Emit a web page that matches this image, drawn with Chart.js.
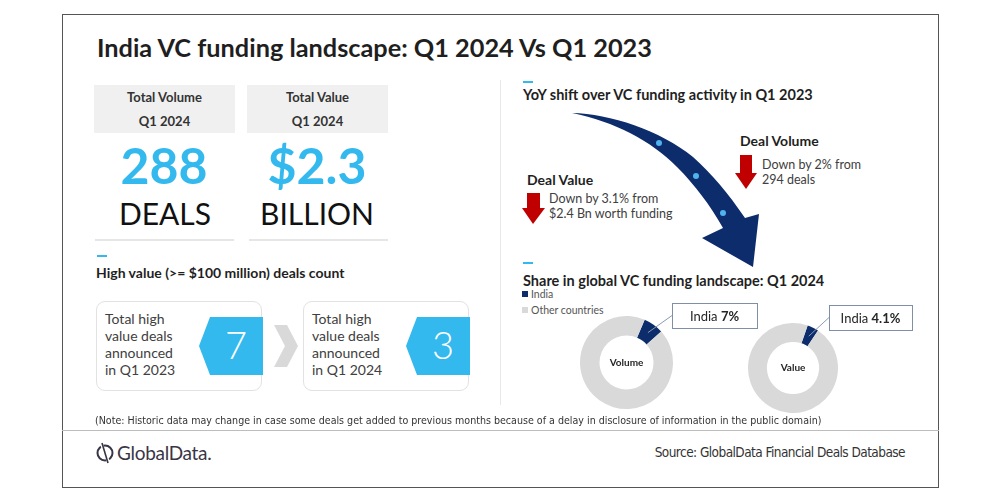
<!DOCTYPE html>
<html>
<head>
<meta charset="utf-8">
<script src="https://cdn.jsdelivr.net/npm/chart.js@4.4.1/dist/chart.umd.min.js"></script>
<style>
  body { margin:0; width:1000px; height:500px; background:#fff; font-family:Lato, "Open Sans", sans-serif; color:#262626; position:relative; overflow:hidden; }
  .abs { position:absolute; }
  .frame { left:62px; top:14px; width:875px; height:472px; border:1px solid #555; }
  .title { left:97px; top:32px; font-size:25.3px; font-weight:bold; color:#1f1f1f; white-space:nowrap; }
  .hdr { background:#f0f0f0; height:48px; top:85px; width:141px; text-align:center; font-size:13px; font-weight:bold; color:#333; }
  .hdr div { line-height:24px; }
  .big { font-size:50px; font-weight:bold; color:#33b9ee; text-align:center; width:160px; line-height:50px; top:140px; }
  .unit { font-size:30px; color:#111; text-align:center; width:160px; top:196px; line-height:34px; }
  .uline { height:2px; background:#e6e6e6; top:239px; width:139px; }
  .dash { width:10px; height:2px; background:#33b9ee; }
  .sub { font-size:14px; font-weight:bold; color:#1f1f1f; white-space:nowrap; }
  .card { border:1px solid #e2e2e2; border-radius:9px; width:164px; height:88px; top:301px; background:#fff; }
  .card span { position:absolute; left:8px; top:8px; font-size:14px; line-height:17px; color:#404040; }
  .txt { font-size:12.5px; color:#404040; line-height:15px; white-space:nowrap; }
  .note { left:95px; top:414px; font-family:"Liberation Sans Narrow","DejaVu Sans Condensed",sans-serif; font-size:10.6px; color:#333; white-space:nowrap; }
  .src { right:95px; top:444px; font-family:"Liberation Sans Narrow","DejaVu Sans Condensed",sans-serif; font-size:13.5px; letter-spacing:-0.55px; color:#333; white-space:nowrap; }
  .leg { font-size:10.5px; color:#555; white-space:nowrap; }
  .leg i { display:inline-block; width:6px; height:6px; margin-right:3px; vertical-align:1px; }
</style>
</head>
<body>
<div class="abs frame"></div>
<div class="abs title">India VC funding landscape: Q1 2024 Vs Q1 2023</div>

<!-- left top KPIs -->
<div class="abs hdr" style="left:94px"><div>Total Volume</div><div>Q1 2024</div></div>
<div class="abs hdr" style="left:247px"><div>Total Value</div><div>Q1 2024</div></div>
<div class="abs big" style="left:84px">288</div>
<div class="abs big" style="left:237px">$2.3</div>
<div class="abs unit" style="left:85px">DEALS</div>
<div class="abs unit" style="left:237px">BILLION</div>
<div class="abs uline" style="left:95px"></div>
<div class="abs uline" style="left:249px"></div>

<div class="abs" style="left:500px;top:80px;width:1px;height:325px;background:#e8e8e8"></div>

<!-- high value deals -->
<div class="abs dash" style="left:97px;top:255px"></div>
<div class="abs sub" style="left:96px;top:264px">High value (&gt;= $100 million) deals count</div>
<div class="abs card" style="left:96px"><span>Total high<br>value deals<br>announced<br>in Q1 2023</span></div>
<div class="abs card" style="left:303px"><span>Total high<br>value deals<br>announced<br>in Q1 2024</span></div>
<svg class="abs" style="left:0;top:0" width="1000" height="500">
  <polygon points="199,346 210,317 263,317 263,375 210,375" fill="#33b9ee"/>
  <polygon points="406,346 417,317 470,317 470,375 417,375" fill="#33b9ee"/>
  <polygon points="274,325 287,325 298,346 287,367 274,367 285,346" fill="#d9d9d9"/>
  <text x="236" y="359" text-anchor="middle" font-family="Lato" font-weight="300" font-size="38" fill="#fff">7</text>
  <text x="443" y="359" text-anchor="middle" font-family="Lato" font-weight="300" font-size="38" fill="#fff">3</text>

  <!-- curved arrow -->
  <path d="M572,113 C610,114 660,130 693,157 C712,174 728,193 745,218 L759,214 L753,267 L702,238 L723,228 C710,205 695,185 677,167 C650,140 615,122 572,113 Z" fill="#0d2c6c"/>
  <circle cx="659" cy="143" r="3" fill="#4fb3f0"/>
  <circle cx="696" cy="176" r="3" fill="#4fb3f0"/>
  <circle cx="723" cy="213" r="3" fill="#4fb3f0"/>

  <!-- red down arrows -->
  <polygon points="527,193 540,193 540,208 545,208 533,224 522,208 527,208" fill="#c00000"/>
  <polygon points="740,155 752,155 752,173 757,173 746,189 735,173 740,173" fill="#c00000"/>

  <!-- logo -->
  <circle cx="105" cy="453" r="7.5" fill="none" stroke="#3a3546" stroke-width="2"/>
  <line x1="101" y1="443" x2="109" y2="463" stroke="#fff" stroke-width="3"/>
  <line x1="102" y1="443" x2="108" y2="463" stroke="#3a3546" stroke-width="1.6"/>
</svg>

<!-- right top -->
<div class="abs dash" style="left:523px;top:81px"></div>
<div class="abs sub" style="left:523px;top:86px;font-size:14.5px">YoY shift over VC funding activity in Q1 2023</div>
<div class="abs sub" style="left:740px;top:132px">Deal Volume</div>
<div class="abs txt" style="left:762px;top:157px">Down by 2% from<br>294 deals</div>
<div class="abs sub" style="left:527px;top:171px">Deal Value</div>
<div class="abs txt" style="left:549px;top:191px">Down by 3.1% from<br>$2.4 Bn worth funding</div>

<!-- right bottom -->
<div class="abs dash" style="left:523px;top:262px"></div>
<div class="abs sub" style="left:523px;top:272px;font-size:14.5px">Share in global VC funding landscape: Q1 2024</div>
<div class="abs leg" style="left:522px;top:288px"><i style="background:#0d2c6c"></i>India</div>
<div class="abs leg" style="left:522px;top:304px"><i style="background:#d9d9d9"></i>Other countries</div>

<canvas id="volChart" class="abs" style="left:570px;top:298px" width="200" height="120"></canvas>
<canvas id="valChart" class="abs" style="left:738px;top:300px" width="200" height="120"></canvas>

<div class="abs note">(Note: Historic data may change in case some deals get added to previous months because of a delay in disclosure of information in the public domain)</div>
<div class="abs" style="left:62px;top:430px;width:877px;height:1px;background:#bdbdbd"></div>
<div class="abs" style="left:117px;top:441px;font-size:19px;color:#3a3546;letter-spacing:-0.3px">GlobalData.</div>
<div class="abs src">Source: GlobalData Financial Deals Database</div>

<script>
const shareLabels = ['India', 'Other countries'];
const shareColors = ['#0d2c6c', '#d9d9d9'];
const volumeShare = [7, 93];
const valueShare = [4.1, 95.9];

// callout box + centre label for each donut
const calloutPlugin = {
    id: 'callout',
    afterDraw(chart, args, o) {
        const c = chart.ctx;
        const arc = chart.getDatasetMeta(0).data[0];
        const mid = (arc.startAngle + arc.endAngle) / 2;
        const r = (arc.outerRadius + arc.innerRadius) / 2;
        const x0 = arc.x + Math.cos(mid) * r, y0 = arc.y + Math.sin(mid) * r;
        c.save();
        c.strokeStyle = '#8a9bb5';
        c.lineWidth = 1;
        c.beginPath();
        c.moveTo(x0, y0);
        c.lineTo(o.bx, o.by + o.bh / 2);
        c.stroke();
        c.fillStyle = '#fff';
        c.fillRect(o.bx, o.by, o.bw, o.bh);
        c.strokeStyle = '#7f8fa6';
        c.strokeRect(o.bx + 0.5, o.by + 0.5, o.bw, o.bh);
        const v = chart.data.datasets[0].data[0] + '%';
        c.font = '13px Lato';
        const w1 = c.measureText('India ').width;
        c.font = 'bold 13px Lato';
        const w2 = c.measureText(v).width;
        let tx = o.bx + (o.bw - w1 - w2) / 2;
        c.textBaseline = 'middle';
        c.fillStyle = '#262626';
        c.font = '13px Lato';
        c.fillText('India ', tx, o.by + o.bh / 2 + 1);
        c.font = 'bold 13px Lato';
        c.fillText(v, tx + w1, o.by + o.bh / 2 + 1);
        c.textAlign = 'center';
        c.font = 'bold 10px Lato';
        c.fillText(o.center, arc.x, arc.y);
        c.restore();
    }
};

function donut(id, data, rot, pad, box, center) {
    return new Chart(document.getElementById(id), {
        type: 'doughnut',
        data: {
            labels: shareLabels,
            datasets: [{ data: data, backgroundColor: shareColors, borderWidth: 0 }]
        },
        options: {
            responsive: false,
            animation: false,
            events: [],
            rotation: rot,
            cutout: '58%',
            layout: { padding: pad },
            plugins: {
                legend: { display: false },
                tooltip: { enabled: false },
                callout: Object.assign({ center: center }, box)
            }
        },
        plugins: [calloutPlugin]
    });
}

donut('volChart', volumeShare, 23, { left: 10, right: 97, top: 18, bottom: 9 }, { bx: 102, by: 5, bw: 85, bh: 25 }, 'Volume');
donut('valChart', valueShare, 19, { left: 10, right: 100, top: 23, bottom: 7 }, { bx: 91, by: 5, bw: 83, bh: 25 }, 'Value');
</script>
</body>
</html>
